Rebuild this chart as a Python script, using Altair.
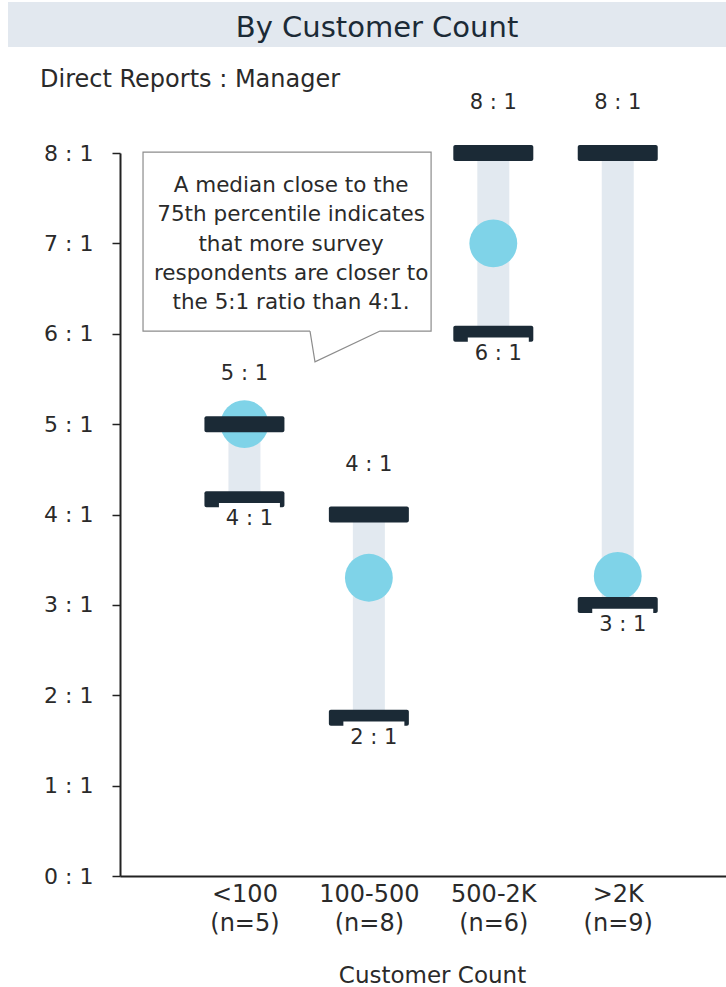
import json
import altair as alt
import pandas as pd

FONT = "DejaVu Sans"

# ---------------- data ----------------
categories = ["<100", "100-500", "500-2K", ">2K"]
n_counts = [5, 8, 6, 9]
low_vals = [4.17, 1.75, 6.0, 3.0]
high_vals = [5.0, 4.0, 8.0, 8.0]
median_vals = [5.0, 3.3, 7.0, 3.32]
low_labels = ["4 : 1", "2 : 1", "6 : 1", "3 : 1"]
high_labels = ["5 : 1", "4 : 1", "8 : 1", "8 : 1"]

y_tick_values = [0, 1, 2, 3, 4, 5, 6, 7, 8]
y_tick_labels = ["0 : 1", "1 : 1", "2 : 1", "3 : 1", "4 : 1", "5 : 1", "6 : 1", "7 : 1", "8 : 1"]

callout_lines = [
    "A median close to the",
    "75th percentile indicates",
    "that more survey",
    "respondents are closer to",
    "the 5:1 ratio than 4:1.",
]
# callout bubble, in data units (x = category slot, y = ratio)
callout_x = [0.185, 2.50]
callout_y = [6.03, 8.01]
tail_x = [1.527, 1.567, 2.09]
tail_y = [6.03, 5.69, 6.03]
callout_text_pos = [1.375, 7.635]   # centre of the first line

# ---------------- tables ----------------
pos = list(range(1, len(categories) + 1))
df = pd.DataFrame({
    "pos": pos, "cat": categories, "low": low_vals, "high": high_vals,
    "median": median_vals, "low_label": low_labels, "high_label": high_labels,
})
caps = pd.DataFrame({"pos": pos + pos, "value": high_vals + low_vals})
box_df = pd.DataFrame({"x": [callout_x[0]], "x2": [callout_x[1]],
                       "y": [callout_y[0]], "y2": [callout_y[1]]})
gap_df = pd.DataFrame({"x": [tail_x[0]], "x2": [tail_x[2]], "y": [tail_y[0]]})
tail_df = pd.DataFrame({"i": [0, 1, 2], "x": tail_x, "y": tail_y})
txt_df = pd.DataFrame({"x": [callout_text_pos[0]], "y": [callout_text_pos[1]],
                       "t": ["\n".join(callout_lines)]})
one = pd.DataFrame({"a": [0]})

label_lines = [[c, f"(n={n})"] for c, n in zip(categories, n_counts)]
x_label_expr = json.dumps(label_lines) + "[datum.value - 1]"
y_label_expr = json.dumps(y_tick_labels) + "[datum.value]"

DARK = "#1b2a36"
TXT = "#2a2a2a"

x_scale = alt.Scale(domain=[0, 4.87], nice=False, zero=False)
y_scale = alt.Scale(domain=[0, 8], nice=False, zero=True)
x_axis = alt.Axis(values=pos, labelExpr=x_label_expr, ticks=False, grid=False,
                  domainColor="#222222", domainWidth=2, labelFontSize=24,
                  labelLineHeight=29.5, labelPadding=6, labelColor=TXT,
                  labelFont=FONT, title="Customer Count", titleFont=FONT,
                  titleFontSize=23, titleFontWeight="normal", titleColor=TXT,
                  titlePadding=29, titleX=312)
y_axis = alt.Axis(values=y_tick_values, labelExpr=y_label_expr, tickSize=8,
                  tickWidth=1.5, tickColor="#222222", domainColor="#222222",
                  domainWidth=2, labelFontSize=22, labelPadding=19,
                  labelColor=TXT, labelFont=FONT, title=None, grid=False)


def X(f):
    return alt.X(f, type="quantitative", scale=x_scale, axis=x_axis)


def Y(f):
    return alt.Y(f, type="quantitative", scale=y_scale, axis=y_axis)


banner = alt.Chart(one).mark_rect(color="#e2e8ef").encode(
    x=alt.value(-112), x2=alt.value(606), y=alt.value(-151), y2=alt.value(-106))
title = alt.Chart(one).mark_text(font=FONT, fontSize=29, color=DARK).encode(
    x=alt.value(257), y=alt.value(-125), text=alt.value("By Customer Count"))
ytitle = alt.Chart(one).mark_text(font=FONT, fontSize=24, color=TXT, align="left").encode(
    x=alt.value(-80), y=alt.value(-73), text=alt.value("Direct Reports : Manager"))

box = alt.Chart(box_df).mark_rect(fill="white", stroke="#8c8c8c", strokeWidth=1.2).encode(
    x=X("x"), x2="x2", y=Y("y"), y2="y2")
gap = alt.Chart(gap_df).mark_rule(color="white", strokeWidth=3).encode(
    x=X("x"), x2="x2", y=Y("y"))
tail = alt.Chart(tail_df).mark_line(color="#8c8c8c", strokeWidth=1.2).encode(
    x=X("x"), y=Y("y"), order="i:Q")
ctext = alt.Chart(txt_df).mark_text(font=FONT, fontSize=21.5, color=TXT, lineBreak="\n",
                                    lineHeight=29.3).encode(
    x=X("x"), y=Y("y"), text="t:N")

rng = alt.Chart(df).mark_rule(strokeWidth=32, color="#e2e9f0").encode(
    x=X("pos"), y=Y("low"), y2="high")
dots = alt.Chart(df).mark_circle(size=2290, color="#7fd3e8", opacity=1).encode(
    x=X("pos"), y=Y("median"))
capm = alt.Chart(caps).mark_tick(orient="horizontal", size=80, thickness=16,
                                 color=DARK, opacity=1, cornerRadius=2).encode(
    x=X("pos"), y=Y("value"))
wbox = alt.Chart(df).mark_point(shape="M-1,-0.5H1V0.5H-1Z", size=61 * 61, filled=True,
                                color="white", opacity=1, yOffset=19, xOffset=5).encode(
    x=X("pos"), y=Y("low"))
lowt = alt.Chart(df).mark_text(font=FONT, fontSize=21, color=TXT, dy=20, dx=5).encode(
    x=X("pos"), y=Y("low"), text="low_label:N")
hight = alt.Chart(df).mark_text(font=FONT, fontSize=21, color=TXT, dy=-50).encode(
    x=X("pos"), y=Y("high"), text="high_label:N")

chart = alt.layer(
    banner, title, ytitle, box, gap, tail, ctext, rng, dots, capm, wbox, lowt, hight
).properties(
    width=606, height=723,
    padding={"left": 120, "top": 153, "right": 0, "bottom": 111},
    autosize=alt.AutoSizeParams(type="none"),
).configure(font=FONT).configure_view(stroke=None)

chart.save("out.html", embed_options={"renderer": "svg", "actions": False})
